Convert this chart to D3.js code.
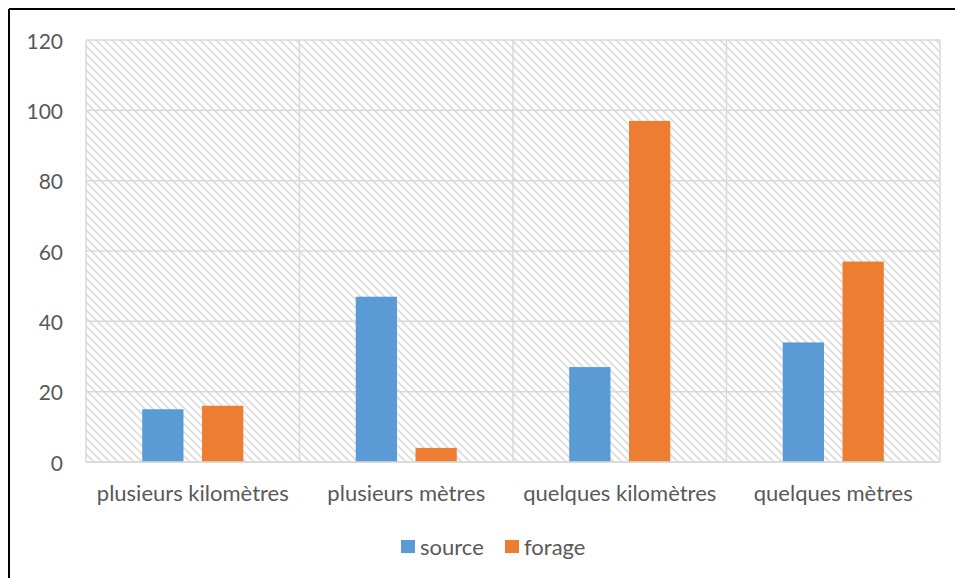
<!DOCTYPE html>
<html><head><meta charset="utf-8">
<script src="https://cdn.jsdelivr.net/npm/d3@7"></script>
<style>
html,body{margin:0;padding:0;background:#fff;}
svg{display:block;}
text{font-family:Lato,"Open Sans",sans-serif;fill:#595959;}
</style></head>
<body>
<svg id="chart" width="955" height="578"></svg>
<script>
const categories = ["plusieurs kilomètres", "plusieurs mètres", "quelques kilomètres", "quelques mètres"];
const seriesNames = ["source", "forage"];
const sourceValues = [15, 47, 27, 34];
const forageValues = [16, 4, 97, 57];
const yTicks = [0, 20, 40, 60, 80, 100, 120];
const colors = {source: "#5B9BD5", forage: "#ED7D31"};

(function(){
const svg = d3.select("#chart");
const defs = svg.append("defs");
const pat = defs.append("pattern").attr("id","hatch").attr("patternUnits","userSpaceOnUse")
  .attr("width",8).attr("height",8);
pat.append("rect").attr("width",8).attr("height",8).attr("fill","#fff");
pat.append("path").attr("d","M-2,-2 L10,10 M-2,6 L2,10 M6,-2 L10,2")
  .attr("stroke","#dcdcdc").attr("stroke-width",1.7);

// outer frame (left and top visible)
svg.append("line").attr("x1",9).attr("y1",9).attr("x2",955).attr("y2",9).attr("stroke","#000").attr("stroke-width",2);
svg.append("line").attr("x1",9).attr("y1",9).attr("x2",9).attr("y2",578).attr("stroke","#000").attr("stroke-width",2);

const pl = 86, pr = 940, pt = 40, pb = 462;
const x0 = d3.scaleBand().domain(categories).range([pl, pr]).padding(0);
const x1 = d3.scaleBand().domain(seriesNames).range([0, x0.bandwidth()]).paddingInner(0.31).paddingOuter(0.94);
const y = d3.scaleLinear().domain([0, 120]).range([pb, pt]);

svg.append("rect").attr("x",pl).attr("y",pt).attr("width",pr-pl).attr("height",pb-pt)
  .attr("fill","url(#hatch)");

// horizontal gridlines
svg.append("g").selectAll("line").data(yTicks).join("line")
  .attr("x1",pl).attr("x2",pr).attr("y1",d=>y(d)).attr("y2",d=>y(d))
  .attr("stroke","#d9d9d9").attr("stroke-width",1.5);
// vertical gridlines
const vb = categories.map(c=>x0(c)).concat([pr]);
svg.append("g").selectAll("line").data(vb).join("line")
  .attr("x1",d=>d).attr("x2",d=>d).attr("y1",pt).attr("y2",pb)
  .attr("stroke","#d9d9d9").attr("stroke-width",1.5);

// bars
const rows = categories.map((c,i)=>({cat:c, vals:[{s:"source",v:sourceValues[i]},{s:"forage",v:forageValues[i]}]}));
const g = svg.append("g").selectAll("g").data(rows).join("g").attr("transform",d=>`translate(${x0(d.cat)},0)`);
g.selectAll("rect").data(d=>d.vals).join("rect")
  .attr("x",d=>x1(d.s)).attr("width",x1.bandwidth())
  .attr("y",d=>y(d.v)).attr("height",d=>y(0)-y(d.v))
  .attr("fill",d=>colors[d.s]);

// axis line
svg.append("line").attr("x1",pl).attr("x2",pr).attr("y1",pb).attr("y2",pb)
  .attr("stroke","#d9d9d9").attr("stroke-width",1.5);

// y tick labels
const yAxis = d3.axisLeft(y).tickValues(yTicks).tickSize(0).tickPadding(0);
const ya = svg.append("g").attr("transform",`translate(${pl-23},0)`).call(yAxis);
ya.select(".domain").remove();
ya.selectAll("text").style("font-size","21px").attr("fill","#595959").style("font-family","Lato")
  .attr("dy",null).attr("y",8);

// x labels
const xAxis = d3.axisBottom(x0).tickSize(0).tickPadding(0);
const xa = svg.append("g").attr("transform",`translate(0,0)`).call(xAxis);
xa.select(".domain").remove();
xa.selectAll("text").style("font-size","22px").attr("fill","#595959").style("font-family","Lato")
  .attr("dy",null).attr("y",501);

// legend
const legend = [{s:"source", x:401},{s:"forage", x:505}];
const lg = svg.append("g").selectAll("g").data(legend).join("g").attr("transform",d=>`translate(${d.x},540)`);
lg.append("rect").attr("width",14).attr("height",13).attr("fill",d=>colors[d.s]);
lg.append("text").attr("x",19).attr("y",15).style("font-size","22px").text(d=>d.s);
})();
</script>
</body></html>
